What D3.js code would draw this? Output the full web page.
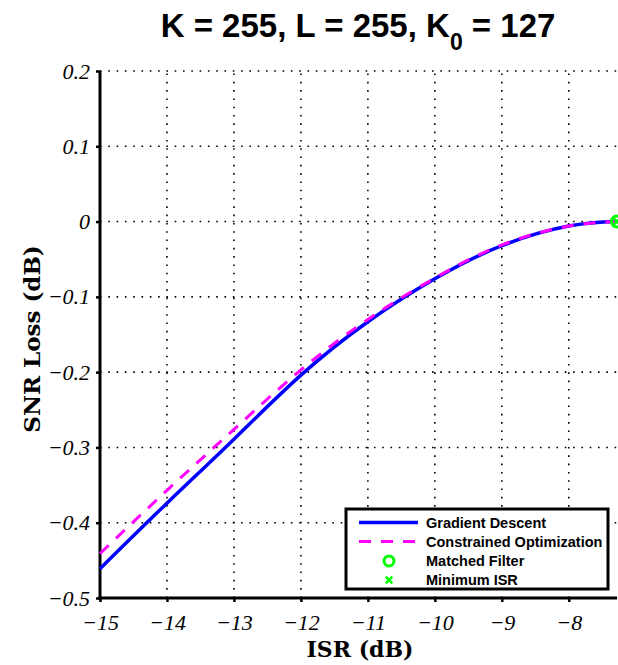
<!DOCTYPE html>
<html>
<head>
<meta charset="utf-8">
<script src="https://cdn.jsdelivr.net/npm/d3@7/dist/d3.min.js"></script>
<style>
  html, body { margin: 0; padding: 0; background: #fff; }
  svg { display: block; }
  .ticklab { font-family: "Liberation Serif", "Times New Roman", serif; font-style: italic; font-size: 22px; }
</style>
</head>
<body>
<script>
// ---- data ----
const isrGD = [-15, -14, -13, -12, -11, -10, -9, -8, -7.28];
const lossGD = [-0.461, -0.374, -0.289, -0.204, -0.133, -0.076, -0.032, -0.006, 0];
const isrCO = [-15, -14, -13, -12, -11, -10, -9, -8, -7.28];
const lossCO = [-0.441, -0.357, -0.276, -0.197, -0.130, -0.075, -0.031, -0.006, 0];
const matchedFilter = [-7.28, 0];
const minimumISR = [-7.28, 0];
const xTicks = [-15, -14, -13, -12, -11, -10, -9, -8];
const yTicks = [0.2, 0.1, 0, -0.1, -0.2, -0.3, -0.4, -0.5];
const legendLabels = ["Gradient Descent", "Constrained Optimization", "Matched Filter", "Minimum ISR"];

(function () {
const W = 618, H = 665;
const pL = 100, pR = 617, pT = 71, pB = 598;

const svg = d3.select("body").append("svg").attr("width", W).attr("height", H);

const x = d3.scaleLinear().domain([-15, -7.28]).range([pL, pR]);
const y = d3.scaleLinear().domain([-0.5, 0.2]).range([pB, pT]);

const fmt = v => {
  let s = (Math.abs(v) < 1e-9) ? "0" : String(Math.round(v * 10) / 10);
  return s.replace("-", "\u2212");
};

// grid
const grid = svg.append("g").attr("stroke", "#000").attr("stroke-width", 1.6)
  .attr("stroke-dasharray", "1.6,6.7");
xTicks.filter(t => t !== -15).forEach(t => {
  grid.append("line").attr("x1", x(t)).attr("x2", x(t)).attr("y1", pB).attr("y2", pT);
});
yTicks.filter(t => t !== -0.5).forEach(t => {
  grid.append("line").attr("x1", pL).attr("x2", pR).attr("y1", y(t)).attr("y2", y(t));
});

// axes
const xAxis = d3.axisBottom(x).tickValues(xTicks).tickFormat(fmt).tickSize(4).tickPadding(9);
const yAxis = d3.axisLeft(y).tickValues(yTicks).tickFormat(fmt).tickSize(4).tickPadding(6);

const gx = svg.append("g").attr("transform", `translate(0,${pB})`).call(xAxis);
const gy = svg.append("g").attr("transform", `translate(${pL},0)`).call(yAxis);
[gx, gy].forEach(g => {
  g.attr("font-family", null).attr("font-size", null);
  g.select(".domain").remove();
  g.selectAll(".tick line").attr("stroke", "#000").attr("stroke-width", 2.5);
  g.selectAll(".tick text").attr("fill", "#000").attr("class", "ticklab");
});
gx.selectAll(".tick text").attr("dy", "0.85em");

// axis lines
svg.append("line").attr("x1", pL).attr("x2", pL).attr("y1", pT).attr("y2", pB + 1.5)
  .attr("stroke", "#000").attr("stroke-width", 3);
svg.append("line").attr("x1", pL - 1.5).attr("x2", pR).attr("y1", pB).attr("y2", pB)
  .attr("stroke", "#000").attr("stroke-width", 3);

// lines
const line = d3.line().x(d => x(d[0])).y(d => y(d[1])).curve(d3.curveNatural);
const gd = isrGD.map((v, i) => [v, lossGD[i]]);
const co = isrCO.map((v, i) => [v, lossCO[i]]);

svg.append("path").datum(gd).attr("d", line).attr("fill", "none")
  .attr("stroke", "#0000ff").attr("stroke-width", 3.5);
svg.append("path").datum(co).attr("d", line).attr("fill", "none")
  .attr("stroke", "#ff00ff").attr("stroke-width", 3).attr("stroke-dasharray", "12,10");

// markers
svg.append("path")
  .attr("d", d3.symbol().type(d3.symbolX).size(40)())
  .attr("transform", `translate(${x(minimumISR[0])},${y(minimumISR[1])})`)
  .attr("stroke", "#00ff00").attr("stroke-width", 2.5).attr("fill", "none");
svg.append("circle").attr("cx", x(matchedFilter[0])).attr("cy", y(matchedFilter[1])).attr("r", 5.5)
  .attr("fill", "none").attr("stroke", "#00ff00").attr("stroke-width", 3);

// title
const title = svg.append("text").attr("x", 358).attr("y", 37).attr("text-anchor", "middle")
  .style("font-family", "'Liberation Sans', Arial, sans-serif").style("font-weight", "bold")
  .style("font-size", "33px").attr("fill", "#000");
title.append("tspan").text("K = 255, L = 255, K");
title.append("tspan").attr("dy", 13).style("font-size", "23px").text("0");
title.append("tspan").attr("dy", -13).text(" = 127");

// axis labels
svg.append("text").attr("x", 360).attr("y", 657).attr("text-anchor", "middle")
  .style("font-family", "'DejaVu Serif', serif").style("font-weight", "bold")
  .style("font-size", "22px").attr("fill", "#000").text("ISR (dB)");
svg.append("text").attr("transform", "translate(40,339) rotate(-90)").attr("text-anchor", "middle")
  .style("font-family", "'DejaVu Serif', serif").style("font-weight", "bold")
  .style("font-size", "23px").attr("fill", "#000").text("SNR Loss (dB)");

// legend
const lg = svg.append("g");
lg.append("rect").attr("x", 346).attr("y", 509).attr("width", 262).attr("height", 80)
  .attr("fill", "#fff").attr("stroke", "#000").attr("stroke-width", 3);
const rowsY = [522.5, 541.5, 561, 580];
lg.append("line").attr("x1", 359).attr("x2", 418).attr("y1", rowsY[0]).attr("y2", rowsY[0])
  .attr("stroke", "#0000ff").attr("stroke-width", 3.5);
lg.append("line").attr("x1", 359).attr("x2", 418).attr("y1", rowsY[1]).attr("y2", rowsY[1])
  .attr("stroke", "#ff00ff").attr("stroke-width", 3).attr("stroke-dasharray", "12,10");
lg.append("circle").attr("cx", 389).attr("cy", rowsY[2]).attr("r", 5)
  .attr("fill", "none").attr("stroke", "#00ff00").attr("stroke-width", 3);
lg.append("path").attr("d", d3.symbol().type(d3.symbolX).size(30)())
  .attr("transform", `translate(389,${rowsY[3]})`)
  .attr("stroke", "#00ff00").attr("stroke-width", 2.5).attr("fill", "none");
legendLabels.forEach((t, i) => {
  lg.append("text").attr("x", 426).attr("y", rowsY[i]).attr("dy", "0.35em")
    .style("font-family", "'Liberation Sans', Arial, sans-serif").style("font-weight", "bold")
    .style("font-size", "14.5px").attr("fill", "#000").text(t);
});
})();
</script>
</body>
</html>
